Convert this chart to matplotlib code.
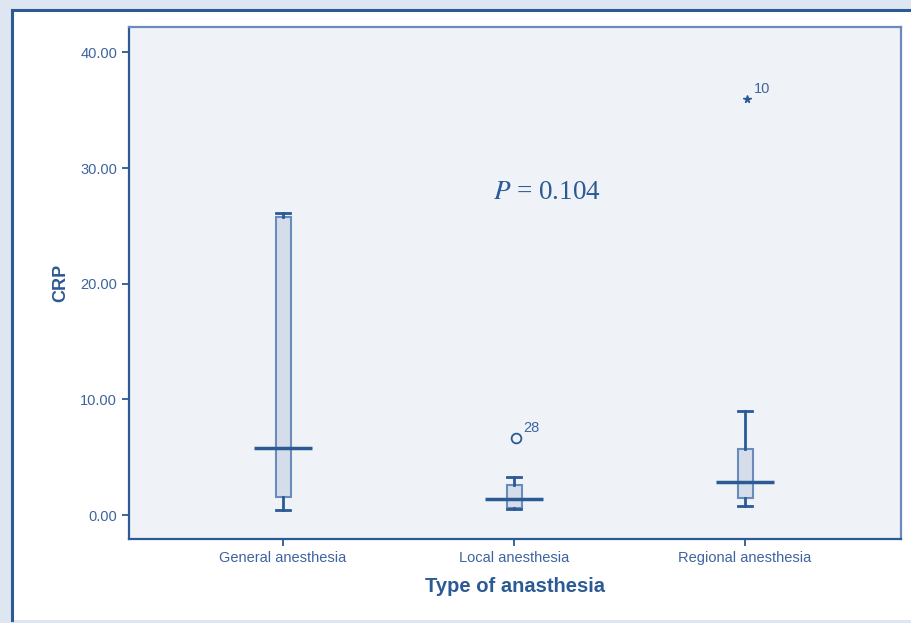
import matplotlib.pyplot as plt
from matplotlib.patches import Rectangle

# data (CRP by type of anaesthesia)
groups = ["General anesthesia", "Local anesthesia", "Regional anesthesia"]
whislo = [0.4, 0.5, 0.8]
q1 = [1.55, 0.65, 1.5]
med = [5.8, 1.4, 2.9]
q3 = [25.8, 2.6, 5.7]
whishi = [26.1, 3.3, 9.0]
outliers = [[], [6.7], [36.0]]
outlier_labels = [[], ["28"], ["10"]]
outlier_kind = [[], ["o"], ["*"]]
yticks = [0, 10, 20, 30, 40]

dark = "#2b5a94"
edge = "#6a8cbc"
fill = "#d4dde9"
bg = "#eff3f7"
txt = "#3d64a0"

plt.rcParams["mathtext.fontset"] = "stix"

fig = plt.figure(figsize=(9.11, 6.23), dpi=100)
fig.patch.set_facecolor("#dde6f1")
# white panel with dark frame on left/top
fig.add_artist(Rectangle((12 / 911, 0.005), 1.0, 1 - 12 / 623 - 0.005,
                         transform=fig.transFigure, facecolor="white",
                         edgecolor="none", zorder=-5))
fig.add_artist(plt.Line2D([12 / 911, 12 / 911], [0.005, 1 - 10 / 623],
                          transform=fig.transFigure, color=dark, lw=2.2,
                          zorder=-4))
fig.add_artist(plt.Line2D([12 / 911, 1], [1 - 10 / 623, 1 - 10 / 623],
                          transform=fig.transFigure, color=dark, lw=2.2,
                          zorder=-4))

ax = fig.add_axes([129 / 911, 84 / 623, 772 / 911, 512 / 623])
ax.set_zorder(1)
ax.set_facecolor(bg)

pos = list(range(len(groups)))
stats = []
for i in pos:
    stats.append(dict(whislo=whislo[i], q1=q1[i], med=med[i], q3=q3[i],
                      whishi=whishi[i], fliers=[]))
ax.bxp(stats, positions=pos, widths=0.065, patch_artist=True,
       showfliers=False,
       boxprops=dict(facecolor=fill, edgecolor=edge, linewidth=1.5),
       whiskerprops=dict(color=dark, linewidth=2),
       capprops=dict(color=dark, linewidth=2),
       capwidths=0.06,
       medianprops=dict(color="none"))
ax.hlines(med, [p - 0.125 for p in pos], [p + 0.125 for p in pos],
          color=dark, linewidth=2.5, zorder=5)

for i in pos:
    for v, lab, kind in zip(outliers[i], outlier_labels[i], outlier_kind[i]):
        if kind == "o":
            ax.plot(i + 0.01, v, "o", mfc="none", mec=dark, ms=7, mew=1.3)
        else:
            ax.plot(i + 0.01, v, "*", color=dark, ms=5.5)
        ax.annotate(lab, (i + 0.01, v), xytext=(5, 4),
                    textcoords="offset points",
                    color=txt, fontsize=10.5, family="Liberation Sans")

ax.text(1.143, 27.9, "$P$ = 0.104", color=dark, fontsize=19.5,
        family="Liberation Serif", ha="center", va="center")

ax.set_xlim(-0.667, 2.675)
ax.set_ylim(-2.07, 42.2)
ax.set_yticks(yticks)
ax.set_yticklabels(["%.2f" % t for t in yticks])
ax.set_xticks(pos)
ax.set_xticklabels(groups)
for s in ax.spines.values():
    s.set_color(edge)
    s.set_linewidth(1.6)
ax.spines["left"].set_color(dark)
ax.spines["bottom"].set_color(dark)
ax.tick_params(colors=dark, labelcolor=txt, labelsize=10.5, length=5,
               width=1.3)
for t in ax.get_xticklabels() + ax.get_yticklabels():
    t.set_family("Liberation Sans")

ax.set_ylabel("CRP", color=dark, fontsize=13, fontweight="bold",
              family="Liberation Sans", labelpad=8)
ax.set_xlabel("Type of anasthesia", color=dark, fontsize=14.5,
              fontweight="bold", family="Liberation Sans", labelpad=9)

fig.savefig("out.png", dpi=100, facecolor=fig.get_facecolor())
